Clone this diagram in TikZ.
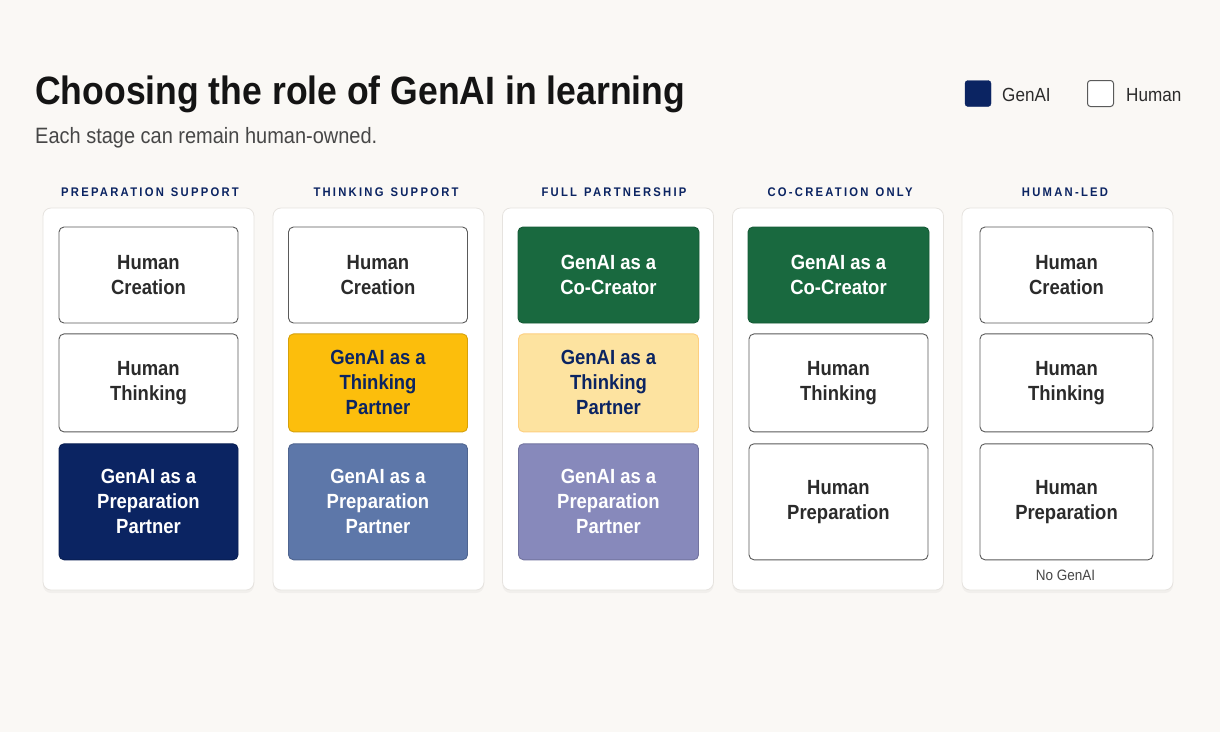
\documentclass[tikz,border=0pt]{standalone}
\usepackage{fontspec}
\setmainfont{Liberation Sans}[FakeStretch=0.9]
\newfontfamily\hdrfont{Liberation Sans}[FakeStretch=0.9,LetterSpace=18]
\usepackage{xcolor}
\usetikzlibrary{positioning,shadows}
\definecolor{fondo}{HTML}{FAF8F5}
\definecolor{panelLine}{HTML}{E6E3DF}
\definecolor{tituloText}{HTML}{141414}
\definecolor{subText}{HTML}{474747}
\definecolor{humanLine}{HTML}{5A5A5A}
\definecolor{humanText}{HTML}{2B2B2B}
\definecolor{navyBox}{HTML}{0B2462}
\definecolor{yellowBox}{HTML}{FCBE0C}
\definecolor{paleYellow}{HTML}{FDE3A0}
\definecolor{greenBox}{HTML}{19693F}
\definecolor{blueBox}{HTML}{5D77A9}
\definecolor{lavBox}{HTML}{8789BB}

\newcommand{\wsp}{\hspace{7pt}}

\tikzset{
  panel/.style={draw=panelLine, fill=white, rounded corners=8pt,
    minimum width=211pt, minimum height=382pt, line width=0.8pt,
    drop shadow={shadow xshift=0pt, shadow yshift=-3pt, opacity=0.07}},
  stage/.style={rounded corners=5pt, align=center, inner sep=0pt,
    minimum width=179pt, line width=0.9pt,
    font=\fontsize{20.5}{25}\selectfont\bfseries},
  humanbox/.style={stage, draw=humanLine, fill=white, text=humanText},
  aibox/.style={stage, draw=#1!85!black, fill=#1, text=white},
  rowA/.style={minimum height=96pt},
  rowB/.style={minimum height=98pt},
  rowC/.style={minimum height=116pt},
  header/.style={anchor=base, text=navyBox,
    font={\hdrfont\bfseries\fontsize{12.5}{14}\selectfont}},
}

\begin{document}
\begin{tikzpicture}[x=1pt, y=-1pt]
  % Background and page size
  \fill[fondo] (0,0) rectangle (1220,732);
  \useasboundingbox (0,0) rectangle (1220,732);

  % Title and subtitle
  \node[anchor=base west, inner sep=0pt, text=tituloText,
    font=\fontsize{39.5}{44}\selectfont\bfseries] (titulo) at (35,104)
    {Choosing the role of GenAI in learning};
  \node[anchor=base west, inner sep=0pt, text=subText,
    font=\fontsize{22.2}{25}\selectfont] (subtitulo) at (35,143)
    {Each stage can remain human-owned.};

  % Legend
  \node[fill=navyBox, draw=navyBox, rounded corners=3pt, minimum size=26pt,
    inner sep=0pt] (legAI) at (978,93.5) {};
  \node[anchor=base west, inner sep=0pt, text=humanText,
    font=\fontsize{19}{22}\selectfont] (legAItxt) at (1002,101) {GenAI};
  \node[fill=white, draw=humanLine, rounded corners=3pt, minimum size=26pt,
    inner sep=0pt, line width=1pt] (legHu) at (1100.5,93.5) {};
  \node[anchor=base west, inner sep=0pt, text=humanText,
    font=\fontsize{19}{22}\selectfont] (legHutxt) at (1126,101) {Human};

  % Column headers
  \node[header] (hPS) at (150,196) {PREPARATION\wsp SUPPORT};
  \node[header] (hTS) at (386,196) {THINKING\wsp SUPPORT};
  \node[header] (hFP) at (614,196) {FULL\wsp PARTNERSHIP};
  \node[header] (hCC) at (840,196) {CO-CREATION\wsp ONLY};
  \node[header] (hHL) at (1065,196) {HUMAN-LED};

  % Column panels
  \node[panel] (pPS) at (148.5,399) {};
  \node[panel] (pTS) at (378.5,399) {};
  \node[panel] (pFP) at (608,399) {};
  \node[panel] (pCC) at (838,399) {};
  \node[panel] (pHL) at (1067.5,399) {};

  % Preparation support
  \node[humanbox, rowA] (psCreate) at (148.5,275) {Human\\Creation};
  \node[humanbox, rowB, below=10pt of psCreate] (psThink) {Human\\Thinking};
  \node[aibox=navyBox, rowC, below=11pt of psThink] (psPrep)
    {GenAI as a\\Preparation\\Partner};

  % Thinking support
  \node[humanbox, rowA] (tsCreate) at (378,275) {Human\\Creation};
  \node[aibox=yellowBox, rowB, below=10pt of tsCreate, text=navyBox] (tsThink)
    {GenAI as a\\Thinking\\Partner};
  \node[aibox=blueBox, rowC, below=11pt of tsThink] (tsPrep)
    {GenAI as a\\Preparation\\Partner};

  % Full partnership
  \node[aibox=greenBox, rowA, minimum width=181pt] (fpCreate) at (608.5,275)
    {GenAI as a\\Co-Creator};
  \node[aibox=paleYellow, rowB, below=10pt of fpCreate, minimum width=180pt,
    draw=paleYellow!80!orange, text=navyBox] (fpThink)
    {GenAI as a\\Thinking\\Partner};
  \node[aibox=lavBox, rowC, below=11pt of fpThink, minimum width=180pt] (fpPrep)
    {GenAI as a\\Preparation\\Partner};

  % Co-creation only
  \node[aibox=greenBox, rowA, minimum width=181pt] (ccCreate) at (838.5,275)
    {GenAI as a\\Co-Creator};
  \node[humanbox, rowB, below=10pt of ccCreate] (ccThink) {Human\\Thinking};
  \node[humanbox, rowC, below=11pt of ccThink] (ccPrep) {Human\\Preparation};

  % Human-led
  \node[humanbox, rowA, minimum width=173pt] (hlCreate) at (1066.5,275)
    {Human\\Creation};
  \node[humanbox, rowB, below=10pt of hlCreate, minimum width=173pt] (hlThink)
    {Human\\Thinking};
  \node[humanbox, rowC, below=11pt of hlThink, minimum width=173pt] (hlPrep)
    {Human\\Preparation};
  \node[anchor=base, inner sep=0pt, text=subText,
    font=\fontsize{15}{18}\selectfont] (noAI) at (1065.5,580) {No GenAI};
\end{tikzpicture}
\end{document}
